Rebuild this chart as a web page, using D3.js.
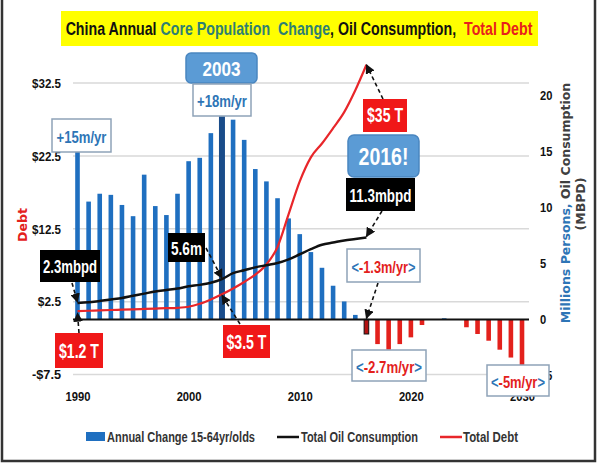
<!DOCTYPE html>
<html><head><meta charset="utf-8">
<script src="https://cdn.jsdelivr.net/npm/d3@7/dist/d3.min.js"></script>
<style>
html,body{margin:0;padding:0;background:#fff;}
svg{display:block;}
</style></head>
<body>
<svg id="chart" width="600" height="467"></svg>
<script>
// ---------- data ----------
const years = [1990,1991,1992,1993,1994,1995,1996,1997,1998,1999,2000,2001,2002,2003,2004,2005,2006,2007,2008,2009,2010,2011,2012,2013,2014,2015,2016,2017,2018,2019,2020,2021,2022,2023,2024,2025,2026,2027,2028,2029,2030];
const popChange = [15.0,10.5,11.2,11.1,10.2,9.2,12.9,10.1,9.3,11.2,14.1,14.4,16.6,18.1,17.8,16.0,13.4,12.3,10.8,9.0,7.6,6.0,4.6,3.0,1.6,0.4,-1.3,-2.2,-2.7,-2.2,-1.6,-0.5,0,0.1,0,-0.7,-1.3,-1.9,-2.7,-3.4,-4.6];
const lineYears = [1990,1991,1992,1993,1994,1995,1996,1997,1998,1999,2000,2001,2002,2003,2004,2005,2006,2007,2008,2009,2010,2011,2012,2013,2014,2015,2016];
const oilMbpd = [2.3,2.4,2.6,2.8,3.0,3.3,3.6,3.9,4.1,4.3,4.6,4.8,5.1,5.6,6.4,6.8,7.2,7.5,7.8,8.3,9.0,9.7,10.3,10.6,10.9,11.1,11.3];
const debtTrillions = [1.2,1.25,1.3,1.35,1.4,1.45,1.5,1.55,1.6,1.65,1.8,2.2,2.8,3.5,4.3,5.2,6.2,7.6,10.0,14.5,19.0,22.3,24.2,26.3,28.5,31.5,35.0];
const leftTicks = [-7.5,2.5,12.5,22.5,32.5];
const rightTicks = [-5,0,5,10,15,20];
const xTicks = [1990,2000,2010,2020,2030];
const legendItems = ["Annual Change 15-64yr/olds","Total Oil Consumption","Total Debt"];

// ---------- setup ----------
const svg = d3.select("#chart");
const FONT = "'Liberation Sans Narrow','Arial Narrow','Liberation Sans',Arial,sans-serif";
const C = {blue:"#1f6fc0", blueDark:"#1a4c8a", red:"#e3211c", boxBlue:"#5b9bd5", txtBlue:"#2e75b6", grid:"#d9d9d9"};

const x = d3.scaleLinear().domain([1990,2030]).range([77.5,522]);
const yL = d3.scaleLinear().domain([-7.5,32.5]).range([374.5,83]);
const yR = d3.scaleLinear().domain([-5,20]).range([375.5,95]);

// squeeze a single-run text horizontally to a target width (mimics a condensed face)
function squash(sel, w){
  const cur = sel.node().getComputedTextLength();
  if (cur > w) sel.attr("textLength", w).attr("lengthAdjust","spacingAndGlyphs");
  return sel;
}
function squashAll(sel, fn){ sel.each(function(d){ squash(d3.select(this), fn(d, this)); }); }

// multi-colour text: placed in a group that is scaled horizontally
function richText(parent, cx, cy, size, parts, w, opts){
  opts = opts || {};
  const g = parent.append("g");
  const t = g.append("text").attr("x",0).attr("y",0).attr("text-anchor", opts.anchor || "middle")
    .attr("font-family",opts.font || FONT).attr("font-weight","bold").attr("font-size",size);
  if (opts.central !== false) t.attr("dominant-baseline","central");
  parts.forEach(p=>t.append("tspan").attr("fill",p[1]).text(p[0]));
  const cur = t.node().getComputedTextLength();
  const sx = cur > w ? w/cur : 1;
  g.attr("transform", `translate(${cx},${cy})${opts.rotate ? " rotate("+opts.rotate+")" : ""} scale(${sx},1)`);
  return g;
}

// frame
svg.append("path").attr("d","M2,0V461H595V0").attr("fill","none").attr("stroke","#333").attr("stroke-width",2.5);

// title
svg.append("rect").attr("x",61).attr("y",11).attr("width",477).attr("height",35).attr("fill","#ffff00");
richText(svg, 299, 34.5, 18, [["China Annual ","#111"],["Core Population\u00A0 Change","#2e7f73"],[", Oil Consumption,\u00A0 ","#111"],["Total Debt","#e8201c"]], 467, {central:false});

// gridlines
svg.append("g").selectAll("line").data(leftTicks).join("line")
  .attr("x1",73).attr("x2",529).attr("y1",d=>yL(d)).attr("y2",d=>yL(d))
  .attr("stroke",C.grid).attr("stroke-width",1.5);

// left axis
const gL = svg.append("g").attr("transform","translate(61,0)")
  .call(d3.axisLeft(yL).tickValues(leftTicks).tickSize(0).tickPadding(0)
    .tickFormat(d=> d<0 ? "-$"+Math.abs(d) : "$"+d));
gL.select(".domain").remove();
gL.selectAll("text").attr("font-family",FONT).attr("font-weight","bold").attr("font-size",13.5).attr("fill","#111");
squashAll(gL.selectAll("text"), (d,el)=> el.textContent.length*5.8);

// right axis
const gR = svg.append("g").attr("transform","translate(540,0)")
  .call(d3.axisRight(yR).tickValues(rightTicks).tickSize(0).tickPadding(0));
gR.select(".domain").remove();
gR.selectAll("text").attr("font-family",FONT).attr("font-weight","bold").attr("font-size",13.5).attr("fill","#111");
squashAll(gR.selectAll("text"), (d,el)=> el.textContent.length*6.2);

// bottom axis
const gB = svg.append("g").attr("transform","translate(0,391)")
  .call(d3.axisBottom(x).tickValues(xTicks).tickSize(0).tickPadding(0).tickFormat(d3.format("d")));
gB.select(".domain").remove();
gB.selectAll("text").attr("font-family",FONT).attr("font-weight","bold").attr("font-size",13.5).attr("fill","#111");
squashAll(gB.selectAll("text"), ()=>25);

// axis titles
squash(svg.append("text").attr("transform","translate(27,225) rotate(-90)").attr("text-anchor","middle")
  .attr("font-family","'DejaVu Sans',sans-serif").attr("font-weight","bold").attr("font-size",12.5).attr("fill","#e3211c").text("Debt"),36);
const rt = svg.append("text").attr("transform","translate(570,203) rotate(-90)").attr("text-anchor","middle")
  .attr("font-family","'DejaVu Sans',sans-serif").attr("font-weight","bold").attr("font-size",12.5);
rt.append("tspan").attr("fill",C.txtBlue).text("Millions Persons, ");
rt.append("tspan").attr("fill","#404040").text("Oil Consumption");
svg.append("text").attr("transform","translate(585,204) rotate(-90)").attr("text-anchor","middle")
  .attr("font-family","'DejaVu Sans',sans-serif").attr("font-weight","bold").attr("font-size",12.5).attr("fill","#404040").text("(MBPD)");

// bars
const barData = years.map((yr,i)=>({yr, v:popChange[i]}));
svg.append("g").selectAll("rect").data(barData).join("rect")
  .attr("x",d=>x(d.yr)-(d.yr===2003?3:2.3))
  .attr("width",d=>d.yr===2003?6:4.6)
  .attr("y",d=>Math.min(yR(d.v),yR(0)))
  .attr("height",d=>Math.abs(yR(d.v)-yR(0)))
  .attr("fill",d=> d.yr===2003 ? C.blueDark : d.yr===2016 ? "#b31212" : (d.v<0 ? C.red : C.blue))
  .attr("stroke",d=> d.yr===2016 ? "#111" : "none").attr("stroke-width",1);

// baseline
svg.append("line").attr("x1",73).attr("x2",529).attr("y1",yR(0)).attr("y2",yR(0)).attr("stroke","#111").attr("stroke-width",2);

// lines
const lineData = (arr)=> lineYears.map((yr,i)=>[yr,arr[i]]);
const lineGen = d3.line().x(d=>x(d[0])).y(d=>yL(d[1])).curve(d3.curveMonotoneX);
svg.append("path").datum(lineData(debtTrillions)).attr("d",lineGen).attr("fill","none").attr("stroke","#e8262a").attr("stroke-width",2.2);
svg.append("path").datum(lineData(oilMbpd)).attr("d",lineGen).attr("fill","none").attr("stroke","#111").attr("stroke-width",2.5);

// arrows
svg.append("defs").append("marker").attr("id","ah").attr("viewBox","0 0 10 10").attr("refX",9).attr("refY",5)
  .attr("markerWidth",6).attr("markerHeight",6).attr("orient","auto")
  .append("path").attr("d","M0,0L10,5L0,10z").attr("fill","#111");
function arrow(x1,y1,x2,y2){
  svg.append("line").attr("x1",x1).attr("y1",y1).attr("x2",x2).attr("y2",y2)
    .attr("stroke","#111").attr("stroke-width",1.6).attr("stroke-dasharray","4,3").attr("marker-end","url(#ah)");
}
arrow(72,283,x(1990),yL(2.3)-1);
arrow(79,333,x(1990),yL(1.2)+2);
arrow(206,248,x(2003),yL(5.6)-1);
arrow(240,324,x(2003),yL(3.5)+1);
arrow(383,99,x(2016),yL(35));
arrow(382,211,x(2016),yL(11.3)-1);
arrow(378,283,x(2016),yR(0)-1);

// annotation boxes
function box(x0,y0,w,h,fill,stroke,rx){
  svg.append("rect").attr("x",x0).attr("y",y0).attr("width",w).attr("height",h).attr("rx",rx||0)
    .attr("fill",fill).attr("stroke",stroke||"none").attr("stroke-width",1.5);
}
const label = (cx,cy,size,parts,w)=> richText(svg,cx,cy,size,parts,w);
const gray="#8ea3b8";
box(52,119,59,33,"#fff",gray); label(81.5,136,17,[["+15m/yr",C.txtBlue]],50);
box(186,53,71,30,C.boxBlue,"#4a86c0",5); label(221.5,68,21,[["2003","#fff"]],38);
box(193,84,58,32,"#fff",gray); label(222,100,17,[["+18m/yr",C.txtBlue]],50);
box(40,250,60,32,"#000"); label(70,266,18,[["2.3mbpd","#fff"]],54);
box(168,233,37,29,"#000"); label(186.5,248,18,[["5.6m","#fff"]],31);
box(55,333,48,35,"#f01818"); label(79,351,21,[["$1.2 T","#fff"]],40);
box(223,325,47,33,"#f01818"); label(246.5,342,21,[["$3.5 T","#fff"]],40);
box(363,99,44,33,"#f01818"); label(385,115,20,[["$35 T","#fff"]],36);
box(348,135,71,42,C.boxBlue,"#4a86c0",6); label(383.5,157,23,[["2016!","#fff"]],50);
box(346,178,69,33,"#000"); label(380.5,195,18,[["11.3mbpd","#fff"]],62);
box(347,249,73,33,"#fff",gray); label(383.5,266,17,[["<",C.txtBlue],["-1.3m/yr","#e3211c"],[">",C.txtBlue]],64);
box(352,350,74,31,"#fff",gray); label(389,366,17,[["<",C.txtBlue],["-2.7m/yr","#e3211c"],[">",C.txtBlue]],66);
box(487,365,62,31,"#fff",gray); label(518,381,17,[["<",C.txtBlue],["-5m/yr","#e3211c"],[">",C.txtBlue]],54);

// legend
const lg = svg.append("g");
function legText(xp, txt, w){
  return squash(lg.append("text").attr("x",xp).attr("y",442).attr("font-family",FONT).attr("font-weight","bold")
    .attr("font-size",14).attr("fill","#333").text(txt), w);
}
lg.append("rect").attr("x",86).attr("y",432).attr("width",19).attr("height",9).attr("fill",C.blue);
legText(107, legendItems[0], 148);
lg.append("line").attr("x1",277).attr("x2",299).attr("y1",437).attr("y2",437).attr("stroke","#111").attr("stroke-width",2.5);
legText(301, legendItems[1], 117);
lg.append("line").attr("x1",440).attr("x2",462).attr("y1",437).attr("y2",437).attr("stroke","#e8262a").attr("stroke-width",2.5);
legText(463, legendItems[2], 55);
</script>
</body></html>
